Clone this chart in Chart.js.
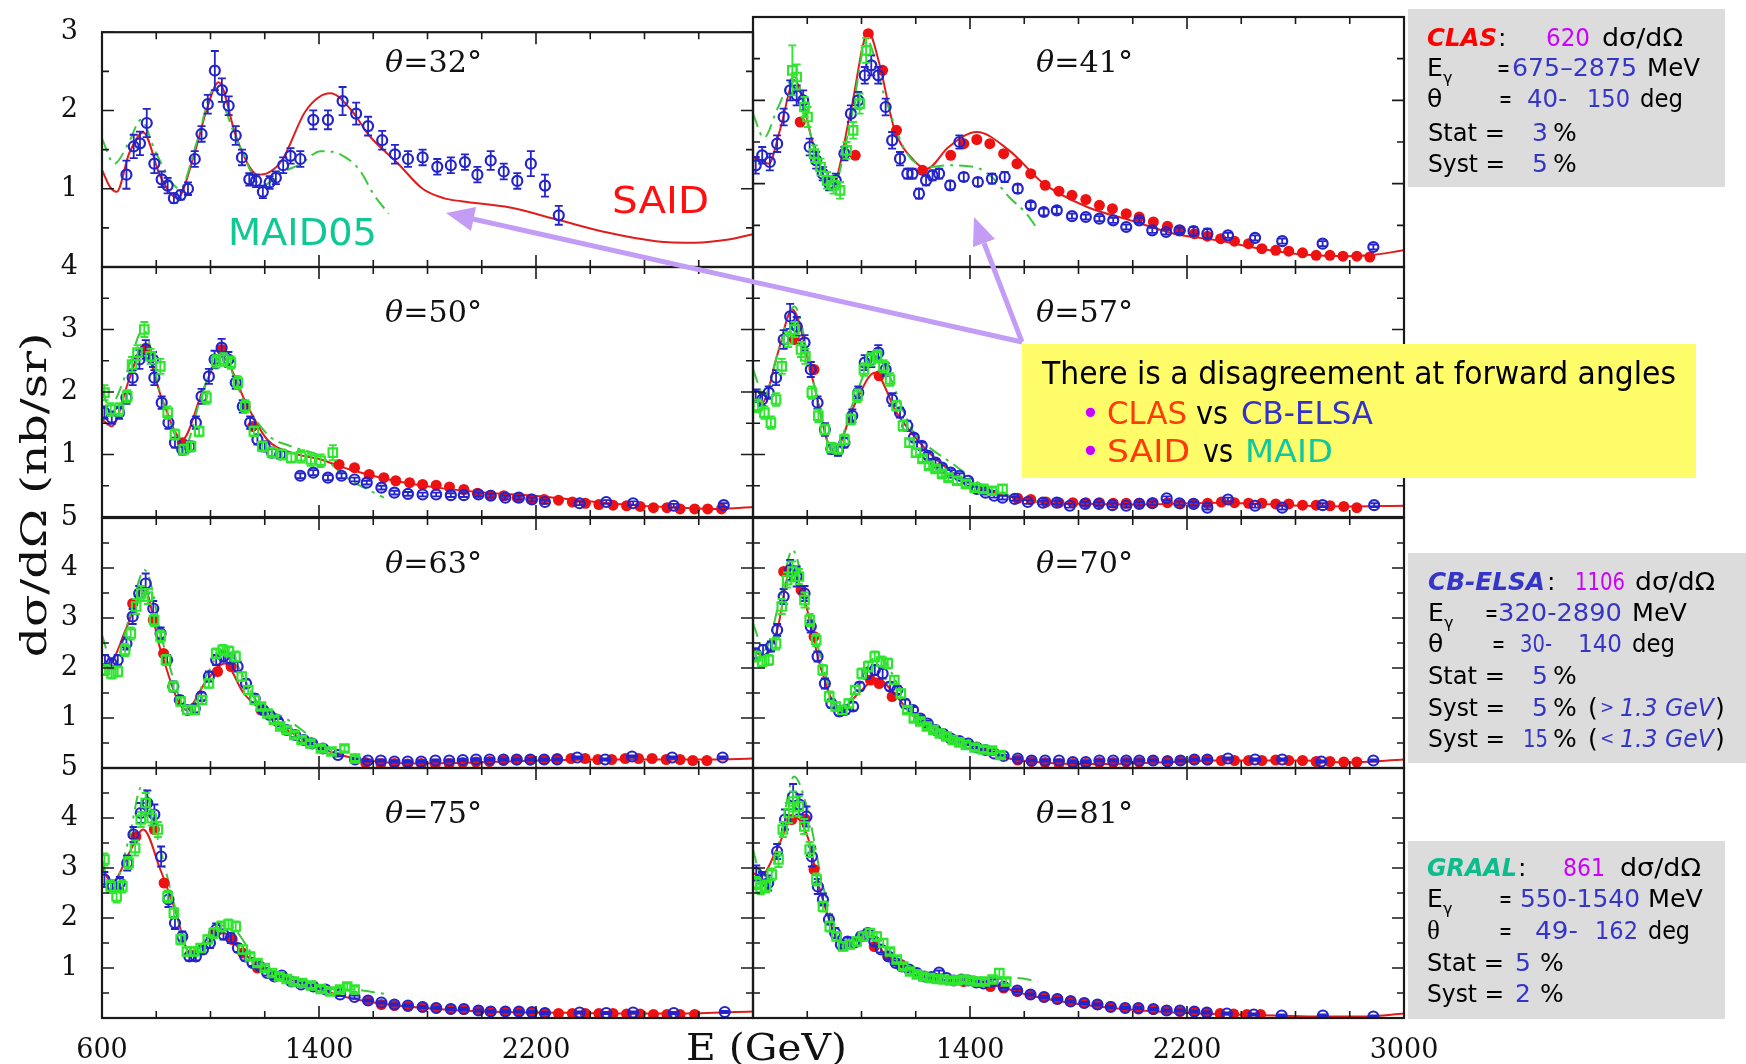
<!DOCTYPE html>
<html lang="en">
<head>
<meta charset="UTF-8">
<title>Eta photoproduction cross sections</title>
<script src="https://cdn.jsdelivr.net/npm/chart.js"></script>
<style>
  body { margin: 0; background: #fff; }
  #page { position: relative; width: 1746px; height: 1064px; overflow: hidden; }
  #page canvas { position: absolute; left: 0; top: 0; }
  #overlay { position: absolute; left: 0; top: 0; width: 1746px; height: 1064px; z-index: 5; }
  .box { position: absolute; }
</style>
</head>
<body>
<div id="page">
  <div id="overlay">
    <div class="box" style="left:1408px;top:9px;width:317px;height:178px;background:#dcdcdc"></div>
    <div class="box" style="left:1408px;top:553px;width:338px;height:210px;background:#dcdcdc"></div>
    <div class="box" style="left:1408px;top:841px;width:317px;height:178px;background:#dcdcdc"></div>
    <svg width="1746" height="1064" style="position:absolute;left:0;top:0">
      <g stroke="#c39cf5" stroke-width="5" fill="#c39cf5">
        <line x1="1022" y1="342" x2="473" y2="219"/>
        <polygon points="446,213 476,207 471,231" stroke="none"/>
        <line x1="1022" y1="342" x2="984" y2="243"/>
        <polygon points="974,217 995,239 973,247" stroke="none"/>
      </g>
    </svg>
    <div class="box" style="left:1022px;top:344px;width:674px;height:134px;background:#fefc68"></div>
  </div>
</div>
<script>
// energy axis (MeV) and panel value ranges
const xMin = 600, xMax = 3000;
const xLabelsLeft = [600, 1400, 2200];
const xLabelsRight = [1400, 2200, 3000];
const thetas = [32, 41, 50, 57, 63, 70, 75, 81];
const yMaxByRow = [3, 4, 5, 5];

// ---- theta = 32
const said32 = [[600,1.24],[630,1.02],[654,0.96],[700,1.45],[752,1.72],[815,1.16],[878,0.88],[940,1.44],[985,2.0],[1030,2.36],[1093,1.68],[1137,1.32],[1173,1.18],[1210,1.2],[1263,1.36],[1352,2.0],[1442,2.22],[1520,2.0],[1585,1.68],[1692,1.32],[1782,1.0],[1860,0.88],[1925,0.84],[2104,0.76],[2284,0.6],[2463,0.44],[2642,0.33],[2785,0.31],[2910,0.35],[3000,0.42]];
const maid32 = [[600,1.64],[645,1.32],[700,1.6],[743,1.88],[800,1.45],[887,1.0],[950,1.6],[1012,2.26],[1100,1.6],[1191,1.04],[1260,1.2],[1334,1.32],[1406,1.48],[1478,1.44],[1549,1.24],[1603,0.92],[1657,0.68]];
const elsa32 = [[690,1.18,0.18],[717,1.54,0.15],[740,1.58,0.15],[765,1.84,0.18],[793,1.32,0.12],[820,1.12,0.1],[842,1.04,0.1],[865,0.88,0.06],[890,0.92,0.06],[917,1.0,0.08],[942,1.38,0.1],[967,1.70,0.1],[990,2.08,0.12],[1016,2.51,0.25],[1042,2.26,0.15],[1067,2.06,0.12],[1093,1.68,0.12],[1116,1.40,0.1],[1143,1.12,0.08],[1168,1.10,0.08],[1193,0.96,0.08],[1218,1.08,0.08],[1241,1.14,0.08],[1268,1.30,0.1],[1295,1.42,0.1],[1331,1.38,0.1],[1379,1.88,0.12],[1433,1.88,0.12],[1487,2.12,0.18],[1537,1.96,0.14],[1581,1.80,0.12],[1633,1.62,0.12],[1680,1.44,0.12],[1728,1.38,0.1],[1782,1.40,0.1],[1836,1.28,0.1],[1886,1.30,0.1],[1938,1.34,0.1],[1984,1.18,0.1],[2033,1.36,0.12],[2081,1.22,0.1],[2131,1.10,0.1],[2181,1.32,0.16],[2233,1.04,0.14],[2284,0.66,0.12]];
const clas32 = [];
const graal32 = [];

// ---- theta = 41
const said41 = [[600,1.32],[658,1.24],[700,1.65],[753,2.24],[825,1.44],[889,0.94],[961,1.88],[1025,2.82],[1065,2.45],[1121,1.66],[1193,1.28],[1241,1.18],[1321,1.44],[1425,1.62],[1544,1.40],[1672,1.0],[1832,0.72],[1992,0.56],[2152,0.40],[2311,0.32],[2471,0.22],[2631,0.15],[2791,0.13],[2871,0.14],[3000,0.2]];
const maid41 = [[600,1.84],[640,1.55],[690,1.9],[753,2.28],[820,1.5],[889,0.92],[960,1.75],[1020,2.72],[1080,2.1],[1161,1.40],[1241,1.2],[1321,1.22],[1417,1.2],[1480,1.08],[1544,0.84],[1608,0.64],[1648,0.46]];
const elsa41 = [[610,1.22,0.1],[634,1.34,0.1],[662,1.26,0.1],[689,1.48,0.1],[713,1.80,0.1],[737,2.12,0.12],[761,2.06,0.12],[785,2.00,0.12],[809,1.44,0.1],[833,1.28,0.1],[857,1.12,0.08],[881,1.0,0.08],[905,1.04,0.08],[937,1.36,0.08],[961,1.84,0.1],[988,2.0,0.1],[1012,2.3,0.1],[1036,2.42,0.12],[1062,2.30,0.1],[1089,1.92,0.1],[1113,1.52,0.1],[1142,1.30,0.08],[1169,1.12,0.06],[1188,1.12,0.06],[1212,0.88,0.06],[1238,1.04,0.06],[1262,1.10,0.06],[1286,1.12,0.06],[1327,0.98,0.05],[1361,1.50,0.08],[1377,1.08,0.05],[1429,1.02,0.05],[1481,1.06,0.06],[1528,1.08,0.06],[1576,0.94,0.05],[1624,0.74,0.04],[1672,0.66,0.04],[1720,0.68,0.04],[1776,0.61,0.03],[1827,0.60,0.03],[1877,0.58,0.03],[1928,0.56,0.03],[1976,0.48,0.03],[2024,0.56,0.03],[2072,0.44,0.03],[2123,0.42,0.03],[2172,0.44,0.03],[2224,0.43,0.05],[2275,0.40,0.06],[2351,0.38,0.03],[2451,0.35,0.03],[2551,0.31,0.03],[2700,0.28,0.03],[2887,0.24,0.03]];
const clas41 = [[774,1.74],[977,1.34],[1025,2.8],[1078,2.36],[1129,1.64],[1225,1.16],[1329,1.34],[1377,1.48],[1425,1.53],[1473,1.48],[1524,1.36],[1573,1.24],[1624,1.12],[1677,0.98],[1728,0.91],[1776,0.86],[1827,0.81],[1877,0.74],[1925,0.70],[1976,0.64],[2024,0.60],[2076,0.54],[2128,0.49],[2176,0.44],[2227,0.40],[2275,0.37],[2324,0.34],[2375,0.31],[2427,0.28],[2476,0.22],[2527,0.20],[2575,0.19],[2626,0.17],[2676,0.14],[2727,0.14],[2775,0.13],[2826,0.13],[2874,0.12]];
const graal41 = [[745,2.36,0.3],[761,2.28,0.15],[790,1.92,0.12],[801,1.80,0.12],[825,1.36,0.1],[849,1.2,0.1],[873,1.04,0.1],[897,0.98,0.1],[921,0.92,0.1],[945,1.40,0.1],[969,1.64,0.1],[993,1.96,0.12],[1017,2.60,0.15]];

// ---- theta = 50
const said50 = [[600,1.56],[636,1.45],[700,2.2],[752,2.73],[820,1.9],[896,1.24],[970,2.0],[1039,2.57],[1137,1.77],[1209,1.24],[1298,1.03],[1406,0.92],[1513,0.76],[1657,0.60],[1836,0.47],[2015,0.39],[2194,0.34],[2373,0.26],[2552,0.19],[2731,0.15],[2875,0.13],[3000,0.16]];
const maid50 = [[600,2.04],[627,1.77],[690,2.3],[752,3.0],[820,1.9],[904,1.13],[970,2.0],[1039,2.57],[1130,1.8],[1218,1.29],[1298,1.13],[1406,0.97],[1513,0.60],[1639,0.31]];
const elsa50 = [[609,1.67,0.1],[636,1.59,0.1],[663,1.67,0.1],[690,1.91,0.1],[713,2.23,0.12],[738,2.52,0.15],[761,2.68,0.15],[788,2.52,0.12],[793,2.23,0.12],[820,1.83,0.1],[845,1.51,0.1],[869,1.19,0.08],[896,1.08,0.08],[922,1.13,0.08],[946,1.51,0.1],[967,1.93,0.12],[994,2.25,0.12],[1015,2.52,0.14],[1041,2.71,0.14],[1066,2.52,0.12],[1093,2.15,0.1],[1119,1.77,0.1],[1146,1.51,0.1],[1173,1.24,0.08],[1200,1.13,0.08],[1227,1.03,0.06],[1257,1.0,0.06],[1331,0.66,0.04],[1379,0.71,0.04],[1433,0.63,0.04],[1483,0.66,0.04],[1531,0.60,0.03],[1576,0.55,0.03],[1630,0.47,0.03],[1678,0.39,0.03],[1728,0.37,0.03],[1782,0.36,0.03],[1832,0.36,0.03],[1886,0.35,0.03],[1934,0.35,0.03],[1988,0.36,0.03],[2033,0.34,0.03],[2087,0.31,0.03],[2137,0.31,0.03],[2185,0.28,0.03],[2233,0.24,0.03],[2361,0.22,0.03],[2459,0.24,0.03],[2558,0.22,0.03],[2708,0.18,0.03],[2892,0.19,0.03]];
const clas50 = [[761,2.7],[896,1.19],[1041,2.68],[1128,1.77],[1155,1.45],[1474,0.84],[1531,0.79],[1585,0.68],[1639,0.63],[1683,0.58],[1734,0.55],[1782,0.52],[1832,0.51],[1881,0.48],[1934,0.44],[1984,0.38],[2033,0.35],[2081,0.34],[2131,0.31],[2181,0.29],[2230,0.28],[2283,0.27],[2334,0.24],[2382,0.22],[2432,0.20],[2484,0.19],[2534,0.18],[2584,0.17],[2633,0.15],[2683,0.15],[2731,0.13],[2785,0.13],[2833,0.13],[2884,0.13]];
const graal50 = [[609,1.99,0.12],[632,1.72,0.1],[663,1.72,0.1],[693,1.93,0.1],[711,2.44,0.12],[731,2.63,0.12],[756,3.0,0.12],[779,2.57,0.12],[815,2.41,0.12],[842,1.67,0.1],[869,1.32,0.08],[901,1.08,0.08],[928,1.13,0.08],[958,1.37,0.08],[985,1.91,0.1],[1021,2.49,0.1],[1048,2.52,0.1],[1075,2.47,0.1],[1101,2.15,0.1],[1128,1.77,0.1],[1160,1.37,0.08],[1191,1.13,0.08],[1227,1.03,0.08],[1263,1.0,0.08],[1298,0.95,0.08],[1334,0.97,0.1],[1370,0.92,0.1],[1406,0.90,0.1],[1451,1.03,0.12]];

// ---- theta = 57
const said57 = [[600,1.88],[634,1.83],[690,2.6],[745,3.32],[820,2.2],[897,1.03],[975,1.8],[1049,2.31],[1129,1.67],[1193,1.30],[1273,0.93],[1353,0.66],[1449,0.45],[1560,0.31],[1672,0.23],[1832,0.21],[1992,0.20],[2152,0.21],[2311,0.23],[2471,0.21],[2631,0.18],[2791,0.17],[3000,0.18]];
const maid57 = [[600,2.36],[642,1.94],[690,2.6],[753,3.37],[820,2.2],[897,1.03],[975,1.9],[1049,2.57],[1193,1.35],[1257,1.09],[1337,0.85],[1449,0.5],[1592,0.29],[1650,0.25]];
const elsa57 = [[610,1.94,0.1],[634,1.88,0.1],[658,1.99,0.1],[685,2.23,0.12],[713,2.84,0.15],[737,3.21,0.2],[761,3.05,0.15],[790,2.79,0.12],[813,2.36,0.12],[838,1.83,0.1],[865,1.40,0.1],[889,1.09,0.08],[913,1.06,0.08],[937,1.19,0.08],[966,1.62,0.1],[988,1.99,0.1],[1012,2.47,0.12],[1036,2.52,0.12],[1062,2.63,0.12],[1089,2.36,0.1],[1113,1.88,0.1],[1142,1.67,0.08],[1169,1.46,0.08],[1193,1.27,0.06],[1222,1.14,0.06],[1246,0.98,0.05],[1273,0.87,0.05],[1297,0.79,0.04],[1329,0.71,0.04],[1361,0.66,0.04],[1393,0.58,0.03],[1425,0.45,0.03],[1457,0.39,0.03],[1489,0.34,0.03],[1520,0.31,0.03],[1565,0.29,0.03],[1613,0.24,0.03],[1669,0.23,0.03],[1720,0.23,0.03],[1768,0.18,0.03],[1824,0.21,0.03],[1875,0.21,0.03],[1925,0.19,0.03],[1976,0.18,0.03],[2024,0.21,0.03],[2072,0.22,0.03],[2125,0.30,0.03],[2172,0.22,0.03],[2224,0.21,0.03],[2275,0.15,0.03],[2351,0.28,0.03],[2451,0.18,0.03],[2551,0.15,0.03],[2700,0.19,0.03],[2890,0.19,0.03]];
const clas57 = [[753,2.84],[825,2.36],[1065,2.26],[1576,0.30],[1624,0.28],[1680,0.24],[1728,0.23],[1779,0.23],[1827,0.23],[1877,0.23],[1928,0.22],[1976,0.22],[2024,0.22],[2075,0.23],[2128,0.23],[2176,0.21],[2227,0.21],[2276,0.22],[2327,0.24],[2375,0.23],[2427,0.22],[2476,0.22],[2527,0.21],[2575,0.21],[2626,0.19],[2676,0.19],[2727,0.18],[2778,0.17],[2826,0.15]];
const graal57 = [[618,1.78,0.1],[642,1.67,0.1],[666,1.51,0.1],[685,1.88,0.1],[706,2.41,0.12],[729,2.84,0.12],[753,3.0,0.12],[777,2.68,0.12],[793,2.57,0.12],[817,1.99,0.1],[841,1.62,0.1],[865,1.40,0.08],[889,1.11,0.08],[913,1.09,0.08],[937,1.24,0.08],[961,1.56,0.08],[985,1.94,0.1],[1009,2.36,0.1],[1033,2.52,0.1],[1057,2.57,0.1],[1081,2.41,0.1],[1105,2.20,0.1],[1129,1.78,0.08],[1153,1.46,0.08],[1177,1.19,0.06],[1201,1.03,0.06],[1225,0.93,0.05],[1249,0.82,0.05],[1273,0.77,0.05],[1297,0.69,0.05],[1321,0.63,0.05],[1353,0.58,0.05],[1385,0.53,0.05],[1417,0.47,0.05],[1449,0.45,0.05],[1481,0.42,0.05],[1520,0.45,0.06]];

// ---- theta = 63
const said63 = [[600,2.09],[619,2.03],[690,2.8],[753,3.63],[816,2.36],[910,1.16],[980,1.7],[1052,2.09],[1123,1.49],[1186,1.16],[1265,0.83],[1344,0.56],[1423,0.36],[1501,0.23],[1580,0.15],[1738,0.09],[1974,0.11],[2211,0.15],[2447,0.17],[2683,0.17],[2841,0.17],[3000,0.19]];
const maid63 = [[600,2.66],[642,2.03],[700,3.0],[757,3.96],[830,2.4],[918,1.16],[990,1.9],[1045,2.36],[1186,1.23],[1265,1.03],[1344,0.73],[1407,0.43],[1470,0.23]];
const elsa63 = [[611,2.16,0.1],[635,2.09,0.1],[658,2.16,0.1],[690,2.49,0.12],[713,3.03,0.15],[737,3.49,0.15],[761,3.69,0.2],[789,3.19,0.15],[816,2.69,0.12],[840,2.16,0.1],[863,1.63,0.1],[887,1.36,0.08],[915,1.16,0.08],[942,1.19,0.08],[966,1.43,0.08],[994,1.83,0.1],[1021,2.16,0.1],[1048,2.23,0.1],[1073,2.19,0.1],[1100,2.03,0.1],[1131,1.69,0.08],[1163,1.39,0.08],[1194,1.16,0.06],[1218,1.06,0.06],[1249,0.93,0.05],[1281,0.76,0.04],[1312,0.66,0.04],[1344,0.56,0.04],[1375,0.49,0.03],[1415,0.39,0.03],[1470,0.26,0.03],[1533,0.17,0.02],[1580,0.15,0.02],[1628,0.15,0.02],[1678,0.13,0.02],[1727,0.13,0.02],[1777,0.13,0.02],[1829,0.15,0.02],[1880,0.15,0.02],[1930,0.16,0.02],[1979,0.17,0.02],[2029,0.17,0.02],[2080,0.17,0.02],[2129,0.17,0.02],[2179,0.17,0.02],[2230,0.17,0.02],[2278,0.17,0.02],[2352,0.21,0.02],[2455,0.17,0.02],[2554,0.23,0.02],[2702,0.21,0.02],[2888,0.21,0.02]];
const clas63 = [[713,3.29],[789,2.96],[827,2.29],[1026,1.93],[1076,2.03],[1186,1.16],[1572,0.11],[1628,0.09],[1678,0.09],[1727,0.08],[1777,0.09],[1829,0.08],[1880,0.09],[1930,0.11],[1979,0.12],[2029,0.13],[2080,0.15],[2129,0.16],[2179,0.16],[2230,0.17],[2278,0.19],[2329,0.19],[2381,0.19],[2428,0.17],[2479,0.17],[2529,0.19],[2578,0.19],[2628,0.19],[2680,0.17],[2731,0.17],[2778,0.15],[2830,0.15]];
const graal63 = [[611,1.96,0.1],[635,1.89,0.1],[658,1.93,0.1],[685,2.36,0.12],[706,2.69,0.12],[726,3.23,0.15],[745,3.49,0.15],[769,3.43,0.15],[792,2.96,0.12],[816,2.63,0.12],[836,2.16,0.1],[863,1.63,0.1],[890,1.33,0.08],[915,1.16,0.08],[942,1.16,0.08],[969,1.36,0.08],[994,1.69,0.08],[1021,2.29,0.1],[1045,2.36,0.1],[1068,2.33,0.1],[1092,2.23,0.1],[1115,1.83,0.08],[1139,1.56,0.08],[1163,1.36,0.08],[1186,1.23,0.06],[1210,1.09,0.06],[1234,0.96,0.06],[1257,0.83,0.05],[1281,0.76,0.05],[1309,0.66,0.05],[1336,0.56,0.05],[1368,0.49,0.05],[1407,0.39,0.05],[1446,0.33,0.05],[1494,0.39,0.06],[1533,0.19,0.05]];

// ---- theta = 70
const said70 = [[600,2.36],[642,2.23],[689,2.76],[740,3.98],[793,3.3],[850,2.0],[921,1.16],[990,1.5],[1057,1.79],[1129,1.43],[1193,1.03],[1273,0.76],[1353,0.56],[1449,0.36],[1544,0.19],[1672,0.11],[1832,0.08],[1992,0.09],[2152,0.12],[2311,0.15],[2471,0.15],[2631,0.15],[2791,0.11],[3000,0.17]];
const maid70 = [[600,2.89],[642,2.36],[700,3.4],[745,4.36],[800,3.3],[860,2.0],[921,1.09],[990,1.7],[1057,2.23],[1193,1.09],[1353,0.63],[1512,0.33],[1550,0.28]];
const elsa70 = [[610,2.29,0.1],[637,2.36,0.1],[666,2.43,0.1],[689,2.76,0.12],[713,3.43,0.15],[737,3.96,0.2],[761,3.83,0.2],[790,3.49,0.15],[813,2.83,0.12],[838,2.23,0.1],[865,1.69,0.1],[889,1.29,0.08],[918,1.13,0.08],[940,1.16,0.08],[969,1.23,0.08],[993,1.63,0.08],[1020,1.89,0.1],[1049,1.96,0.1],[1078,1.89,0.1],[1105,1.63,0.08],[1132,1.56,0.08],[1161,1.29,0.08],[1190,1.16,0.06],[1217,0.99,0.06],[1244,0.89,0.05],[1273,0.76,0.05],[1302,0.68,0.04],[1329,0.59,0.04],[1361,0.54,0.03],[1393,0.49,0.03],[1425,0.41,0.03],[1457,0.36,0.03],[1489,0.29,0.03],[1524,0.24,0.02],[1576,0.19,0.02],[1627,0.15,0.02],[1677,0.15,0.02],[1728,0.15,0.02],[1779,0.12,0.02],[1827,0.12,0.02],[1877,0.15,0.02],[1928,0.15,0.02],[1976,0.15,0.02],[2024,0.15,0.02],[2075,0.15,0.02],[2128,0.13,0.02],[2176,0.15,0.02],[2227,0.17,0.02],[2275,0.17,0.02],[2351,0.19,0.02],[2451,0.17,0.02],[2551,0.17,0.02],[2695,0.13,0.02],[2887,0.15,0.02]];
const clas70 = [[713,3.93],[777,3.56],[825,2.63],[1033,1.76],[1065,1.69],[1113,1.43],[1576,0.16],[1627,0.13],[1677,0.11],[1728,0.09],[1779,0.09],[1827,0.09],[1877,0.11],[1928,0.11],[1976,0.12],[2024,0.12],[2075,0.15],[2128,0.15],[2176,0.15],[2227,0.16],[2276,0.16],[2327,0.15],[2375,0.15],[2427,0.15],[2476,0.15],[2527,0.16],[2575,0.15],[2626,0.15],[2676,0.13],[2727,0.13],[2778,0.12],[2826,0.12]];
const graal70 = [[610,2.23,0.1],[634,2.13,0.1],[658,2.16,0.1],[685,2.49,0.12],[706,3.23,0.15],[726,3.76,0.15],[745,3.93,0.2],[769,3.83,0.15],[790,3.36,0.15],[809,2.96,0.12],[833,2.56,0.12],[857,1.96,0.1],[881,1.43,0.1],[905,1.23,0.08],[929,1.16,0.08],[953,1.29,0.08],[977,1.56,0.08],[1001,1.89,0.1],[1025,2.03,0.1],[1049,2.23,0.1],[1073,2.13,0.1],[1097,2.09,0.1],[1121,1.76,0.08],[1145,1.49,0.08],[1169,1.16,0.06],[1193,0.99,0.06],[1217,0.93,0.05],[1241,0.83,0.05],[1265,0.76,0.05],[1289,0.69,0.05],[1313,0.63,0.05],[1337,0.56,0.05],[1361,0.51,0.05],[1385,0.46,0.05],[1417,0.41,0.05],[1449,0.37,0.05],[1481,0.35,0.05],[1512,0.26,0.05]];

// ---- theta = 75
const said75 = [[600,3.03],[636,2.70],[700,3.3],[752,3.77],[815,2.97],[869,2.17],[922,1.33],[990,1.5],[1048,1.70],[1119,1.30],[1191,1.03],[1298,0.77],[1406,0.57],[1513,0.40],[1657,0.27],[1836,0.18],[2015,0.13],[2194,0.11],[2373,0.10],[2552,0.09],[2731,0.09],[3000,0.13]];
const maid75 = [[600,3.17],[636,2.57],[700,3.6],[746,4.63],[815,3.37],[870,2.2],[922,1.30],[990,1.6],[1057,1.87],[1191,1.03],[1388,0.63],[1530,0.57],[1657,0.47]];
const elsa75 = [[609,2.77,0.15],[639,2.63,0.12],[666,2.70,0.12],[693,3.10,0.15],[716,3.67,0.15],[743,4.10,0.2],[767,4.30,0.25],[793,4.07,0.2],[818,3.23,0.2],[845,2.37,0.15],[869,1.90,0.12],[896,1.63,0.1],[922,1.23,0.08],[946,1.23,0.08],[972,1.37,0.08],[998,1.50,0.1],[1021,1.77,0.12],[1048,1.67,0.1],[1075,1.60,0.1],[1101,1.40,0.08],[1128,1.23,0.08],[1155,1.10,0.06],[1182,1.03,0.06],[1209,0.90,0.05],[1236,0.83,0.05],[1263,0.85,0.05],[1298,0.73,0.04],[1334,0.67,0.04],[1379,0.63,0.04],[1424,0.57,0.03],[1478,0.47,0.03],[1531,0.42,0.03],[1581,0.35,0.02],[1630,0.31,0.02],[1678,0.27,0.02],[1728,0.25,0.02],[1782,0.22,0.02],[1832,0.20,0.02],[1886,0.18,0.02],[1934,0.18,0.02],[1988,0.15,0.02],[2033,0.13,0.02],[2087,0.13,0.02],[2137,0.13,0.02],[2185,0.12,0.02],[2233,0.10,0.02],[2361,0.11,0.02],[2459,0.10,0.02],[2558,0.11,0.02],[2708,0.10,0.02],[2896,0.12,0.02]];
const clas75 = [[725,3.63],[793,3.77],[829,2.70],[1012,1.70],[1080,1.57],[1119,1.30],[1173,1.00],[1581,0.35],[1630,0.27],[1678,0.25],[1728,0.23],[1782,0.22],[1832,0.20],[1886,0.18],[1934,0.17],[1988,0.15],[2033,0.13],[2087,0.13],[2137,0.12],[2185,0.11],[2233,0.10],[2283,0.09],[2334,0.09],[2382,0.09],[2432,0.09],[2484,0.09],[2534,0.08],[2584,0.08],[2633,0.07],[2683,0.07],[2731,0.07],[2785,0.07]];
const graal75 = [[609,3.17,0.12],[632,2.63,0.12],[654,2.43,0.12],[675,2.63,0.12],[698,3.10,0.12],[722,3.40,0.15],[743,3.97,0.15],[761,4.30,0.2],[783,4.00,0.15],[806,3.77,0.15],[842,2.43,0.12],[865,2.10,0.1],[890,1.57,0.1],[913,1.33,0.08],[940,1.33,0.08],[964,1.40,0.08],[990,1.57,0.08],[1012,1.70,0.1],[1039,1.83,0.1],[1066,1.87,0.1],[1093,1.83,0.1],[1119,1.37,0.08],[1146,1.23,0.06],[1173,1.10,0.06],[1200,1.00,0.05],[1227,0.90,0.05],[1254,0.83,0.05],[1281,0.78,0.05],[1307,0.73,0.05],[1338,0.70,0.05],[1370,0.65,0.05],[1406,0.58,0.05],[1442,0.53,0.05],[1478,0.57,0.05],[1504,0.63,0.06],[1531,0.57,0.06]];

// ---- theta = 81
const said81 = [[600,2.90],[628,2.83],[690,3.4],[751,4.03],[801,3.63],[850,2.50],[932,1.47],[1023,1.63],[1113,1.10],[1212,0.83],[1311,0.73],[1426,0.71],[1508,0.63],[1607,0.47],[1738,0.33],[1870,0.23],[2034,0.15],[2199,0.10],[2363,0.07],[2528,0.05],[2692,0.03],[2857,0.03],[3000,0.09]];
const maid81 = [[600,3.37],[620,2.97],[653,2.70],[700,3.6],[751,4.83],[801,4.17],[860,2.6],[932,1.50],[1031,1.77],[1130,1.10],[1294,0.83],[1459,0.77],[1574,0.80],[1649,0.73]];
const elsa81 = [[612,2.90,0.15],[633,2.80,0.12],[656,2.70,0.15],[689,3.33,0.15],[718,3.97,0.2],[748,4.43,0.25],[771,4.27,0.2],[797,4.03,0.2],[817,3.23,0.2],[839,2.63,0.15],[858,2.37,0.12],[880,1.97,0.1],[903,1.70,0.1],[924,1.47,0.08],[949,1.53,0.08],[973,1.51,0.08],[998,1.63,0.08],[1023,1.70,0.08],[1047,1.53,0.08],[1072,1.37,0.06],[1100,1.23,0.06],[1126,1.10,0.05],[1149,1.03,0.05],[1176,0.97,0.05],[1204,0.90,0.05],[1232,0.83,0.04],[1258,0.82,0.04],[1286,0.91,0.04],[1314,0.80,0.04],[1340,0.75,0.04],[1368,0.77,0.04],[1393,0.75,0.04],[1423,0.71,0.04],[1450,0.69,0.04],[1483,0.73,0.04],[1524,0.63,0.03],[1574,0.55,0.03],[1623,0.47,0.02],[1673,0.42,0.02],[1722,0.38,0.02],[1771,0.33,0.02],[1821,0.30,0.02],[1870,0.27,0.02],[1919,0.22,0.02],[1972,0.20,0.02],[2021,0.20,0.02],[2076,0.18,0.02],[2125,0.15,0.02],[2174,0.15,0.02],[2227,0.13,0.02],[2273,0.11,0.02],[2347,0.09,0.02],[2446,0.07,0.02],[2549,0.05,0.02],[2701,0.05,0.02],[2887,0.03,0.02]];
const clas81 = [[743,3.97],[792,3.98],[825,2.97],[1047,1.43],[1097,1.23],[1146,1.07],[1269,0.80],[1376,0.73],[1475,0.63],[1524,0.60],[1574,0.53],[1623,0.47],[1673,0.42],[1722,0.38],[1771,0.35],[1821,0.30],[1870,0.27],[1919,0.23],[1972,0.20],[2021,0.18],[2076,0.17],[2125,0.15],[2174,0.13],[2227,0.12],[2273,0.10],[2322,0.09],[2372,0.08],[2421,0.07],[2471,0.07]];
const graal81 = [[612,2.70,0.12],[628,2.60,0.12],[648,2.63,0.12],[669,2.87,0.12],[694,3.17,0.15],[710,3.77,0.15],[732,4.10,0.2],[748,4.33,0.2],[768,4.23,0.2],[789,3.83,0.15],[809,3.37,0.15],[834,2.77,0.12],[858,2.23,0.1],[883,1.83,0.1],[908,1.63,0.08],[932,1.43,0.08],[957,1.47,0.08],[982,1.53,0.08],[1006,1.63,0.08],[1031,1.70,0.08],[1056,1.63,0.08],[1080,1.50,0.08],[1105,1.33,0.06],[1130,1.17,0.06],[1154,1.03,0.05],[1179,0.93,0.05],[1204,0.87,0.05],[1228,0.83,0.05],[1253,0.80,0.05],[1278,0.78,0.05],[1302,0.77,0.05],[1327,0.75,0.05],[1352,0.75,0.05],[1376,0.77,0.05],[1401,0.75,0.05],[1426,0.73,0.05],[1455,0.73,0.05],[1483,0.77,0.06],[1508,0.90,0.08],[1533,0.73,0.06]];

const saidSets = [said32, said41, said50, said57, said63, said70, said75, said81];
const maidSets = [maid32, maid41, maid50, maid57, maid63, maid70, maid75, maid81];
const elsaSets = [elsa32, elsa41, elsa50, elsa57, elsa63, elsa70, elsa75, elsa81];
const clasSets = [clas32, clas41, clas50, clas57, clas63, clas70, clas75, clas81];
const graalSets = [graal32, graal41, graal50, graal57, graal63, graal70, graal75, graal81];

// page geometry
const W = 1746, H = 1064;
const colLeft = [102, 753], panelW = 651;
const rowTop = [17, 267, 518, 768], panelH = 250;
const TICK_FONT = { family: 'DejaVu Serif', size: 27 };

const RED = '#ee1111', BLUE = '#2424cc', GREEN = '#2fe62f', MAIDGREEN = '#3cc83c';

const toXY = arr => arr.map(p => ({ x: p[0], y: p[1], e: p[2] }));

// error bars under the symbols
const errorBars = {
  id: 'errorBars',
  beforeDatasetDraw(chart, args) {
    const ds = chart.data.datasets[args.index];
    if (!ds.errColor) return;
    const { ctx, chartArea: a, scales: { x, y } } = chart;
    ctx.save();
    ctx.beginPath();
    ctx.rect(a.left, a.top, a.width, a.height);
    ctx.clip();
    ctx.strokeStyle = ds.errColor;
    ctx.lineWidth = 1.8;
    ds.data.forEach(d => {
      if (!d.e) return;
      const px = x.getPixelForValue(d.x);
      const lo = y.getPixelForValue(d.y - d.e), hi = y.getPixelForValue(d.y + d.e);
      ctx.beginPath();
      ctx.moveTo(px, lo); ctx.lineTo(px, hi);
      ctx.moveTo(px - 4, lo); ctx.lineTo(px + 4, lo);
      ctx.moveTo(px - 4, hi); ctx.lineTo(px + 4, hi);
      ctx.stroke();
    });
    ctx.restore();
  }
};

// frame + inward ticks on all four sides
const frame = {
  id: 'frame',
  afterDatasetsDraw(chart) {
    const { ctx, chartArea: a, scales: { x, y } } = chart;
    ctx.save();
    ctx.strokeStyle = '#1a1a1a';
    ctx.lineWidth = 1.6;
    x.ticks.forEach(t => {
      const px = x.getPixelForValue(t.value);
      const len = (t.value - 600) % 800 === 0 ? 12 : 7;
      ctx.beginPath();
      ctx.moveTo(px, a.bottom); ctx.lineTo(px, a.bottom - len);
      ctx.moveTo(px, a.top); ctx.lineTo(px, a.top + len);
      ctx.stroke();
    });
    y.ticks.forEach(t => {
      const py = y.getPixelForValue(t.value);
      const len = Number.isInteger(t.value) ? 12 : 7;
      ctx.beginPath();
      ctx.moveTo(a.left, py); ctx.lineTo(a.left + len, py);
      ctx.moveTo(a.right, py); ctx.lineTo(a.right - len, py);
      ctx.stroke();
    });
    ctx.lineWidth = 2.2;
    ctx.strokeRect(a.left, a.top, a.width, a.height);
    ctx.restore();
  }
};

const page = document.getElementById('page');

thetas.forEach((theta, i) => {
  const row = Math.floor(i / 2), col = i % 2;
  const left = colLeft[col], top = rowTop[row];
  const canvas = document.createElement('canvas');
  canvas.width = W; canvas.height = H;
  page.insertBefore(canvas, document.getElementById('overlay'));
  const xLabels = col === 0 ? xLabelsLeft : xLabelsRight;

  new Chart(canvas, {
    type: 'scatter',
    data: {
      datasets: [
        { label: 'GRAAL', data: toXY(graalSets[i]), pointStyle: 'rect', pointRadius: 6,
          borderColor: GREEN, backgroundColor: 'rgba(0,0,0,0)', borderWidth: 2.2, errColor: GREEN, order: 1 },
        { label: 'CB-ELSA', data: toXY(elsaSets[i]), pointStyle: 'circle', pointRadius: 5,
          borderColor: BLUE, backgroundColor: 'rgba(0,0,0,0)', borderWidth: 2.2, errColor: BLUE, order: 2 },
        { label: 'CLAS', data: toXY(clasSets[i]), pointStyle: 'circle', pointRadius: 5.5,
          borderColor: RED, backgroundColor: RED, borderWidth: 0, order: 3 },
        { label: 'MAID05', data: toXY(maidSets[i]), showLine: true, pointRadius: 0,
          borderColor: MAIDGREEN, borderWidth: 2, borderDash: [14, 6, 3, 6],
          cubicInterpolationMode: 'monotone', order: 4 },
        { label: 'SAID', data: toXY(saidSets[i]), showLine: true, pointRadius: 0,
          borderColor: '#e01c1c', borderWidth: 2, cubicInterpolationMode: 'monotone', order: 5 }
      ]
    },
    options: {
      responsive: false,
      animation: false,
      events: [],
      layout: { autoPadding: false, padding: { top: top, left: 0, bottom: 0, right: W - (left + panelW) } },
      plugins: { legend: { display: false }, tooltip: { enabled: false } },
      scales: {
        x: {
          type: 'linear', min: xMin, max: xMax, position: 'bottom',
          grid: { display: false }, border: { display: false },
          ticks: {
            display: row === 3, stepSize: 200, autoSkip: false, maxRotation: 0,
            padding: 9, font: TICK_FONT, color: '#111',
            callback: v => (xLabels.includes(v) ? String(v) : '')
          },
          afterFit: s => { s.height = H - (top + panelH); }
        },
        y: {
          type: 'linear', min: 0, max: yMaxByRow[row], position: 'left',
          grid: { display: false }, border: { display: false },
          ticks: {
            display: col === 0, stepSize: 0.5, autoSkip: false,
            padding: 16, font: TICK_FONT, color: '#111',
            callback: v => (Number.isInteger(v) && v > 0 ? String(v) : '')
          },
          afterFit: s => { s.width = left; }
        }
      }
    },
    plugins: [errorBars, frame]
  });
});

// ---------- text overlays
const overlay = document.getElementById('overlay');
const NOTE = "'DejaVu Sans', sans-serif";
const SERIF = "'DejaVu Serif', serif";

function put(text, x, y, o = {}) {
  const s = document.createElement('span');
  if (o.html) s.innerHTML = text; else s.textContent = text;
  s.style.cssText = 'position:absolute;white-space:pre;line-height:1;transform-origin:0 50%;' +
    `left:${x}px;top:${y}px;font-family:${o.family || NOTE};font-size:${o.size || 25}px;` +
    `color:${o.color || '#000'};font-weight:${o.weight || 'normal'};font-style:${o.style || 'normal'};`;
  overlay.appendChild(s);
  const k = o.w ? o.w / s.getBoundingClientRect().width : 1;
  s.style.transform = `translateY(-50%) scaleX(${k})`;
  return s;
}

// panel angle labels
thetas.forEach((theta, i) => {
  const row = Math.floor(i / 2), col = i % 2;
  put(`<i>θ</i>=${theta}°`, colLeft[col] + 283, rowTop[row] + 45,
      { html: true, family: SERIF, size: 29, color: '#111', w: 97 });
});

// axis titles
put('E (GeV)', 686, 1047, { family: SERIF, size: 37, color: '#111', w: 161 });
(() => {
  const s = document.createElement('span');
  s.textContent = 'dσ/dΩ (nb/sr)';
  s.style.cssText = `position:absolute;white-space:pre;line-height:1;left:34px;top:495px;` +
    `font-family:${SERIF};font-size:35px;color:#111;`;
  overlay.appendChild(s);
  const k = 325 / s.getBoundingClientRect().width;
  s.style.transform = `translate(-50%,-50%) rotate(-90deg) scaleX(${k})`;
})();

// model labels
put('SAID', 612, 200, { size: 37, color: '#ff1010', w: 97 });
put('MAID05', 228, 232, { size: 37, color: '#10c896', w: 149 });

// yellow note
const ORANGE = '#ff3a0a', NBLUE = '#3333cc', TEAL = '#10c8a0', MAG = '#cc00ff';
put('There is a disagreement at forward angles', 1042, 373, { size: 32, w: 634 });
put('•', 1081, 413, { size: 32, color: MAG });
put('CLAS', 1107, 413, { size: 32, color: ORANGE, w: 80 });
put('vs', 1196, 413, { size: 32, w: 32 });
put('CB-ELSA', 1241, 413, { size: 32, color: NBLUE, w: 132 });
put('•', 1081, 451, { size: 32, color: MAG });
put('SAID', 1107, 451, { size: 32, color: ORANGE, w: 83 });
put('vs', 1203, 451, { size: 32, w: 30 });
put('MAID', 1245, 451, { size: 32, color: TEAL, w: 88 });

// info boxes
const BB = '#3535c8';
function eGamma(x, y) { put('E', x, y); put('γ', x + 16, y + 11, { size: 16 }); }

put('CLAS', 1427, 37, { color: '#ff0000', weight: 'bold', style: 'italic', w: 70 });
put(':', 1498, 37);
put('620', 1546, 37, { color: MAG, w: 44 });
put('dσ/dΩ', 1602, 37, { w: 81 });
eGamma(1427, 67);
put('=', 1497, 67, { w: 13 }); put('675–2875', 1512, 67, { color: BB, w: 125 }); put('MeV', 1647, 67, { w: 53 });
put('θ', 1427, 98);
put('=', 1499, 98, { w: 13 }); put('40-', 1527, 98, { color: BB, w: 40 }); put('150', 1587, 98, { color: BB, w: 43 }); put('deg', 1640, 98, { w: 43 });
put('Stat =', 1428, 132, { w: 77 }); put('3', 1532, 132, { color: BB }); put('%', 1553, 132);
put('Syst =', 1428, 163, { w: 77 }); put('5', 1532, 163, { color: BB }); put('%', 1553, 163);

put('CB-ELSA', 1428, 581, { color: BB, weight: 'bold', style: 'italic', w: 117 });
put(':', 1547, 581);
put('1106', 1575, 581, { color: MAG, w: 50 });
put('dσ/dΩ', 1635, 581, { w: 80 });
eGamma(1428, 612);
put('=', 1485, 612, { w: 13 }); put('320-2890', 1498, 612, { color: BB, w: 124 }); put('MeV', 1632, 612, { w: 55 });
put('θ', 1428, 643);
put('=', 1492, 643, { w: 13 }); put('30-', 1520, 643, { color: BB, w: 32 }); put('140', 1578, 643, { color: BB, w: 44 }); put('deg', 1632, 643, { w: 43 });
put('Stat =', 1428, 675, { w: 77 }); put('5', 1532, 675, { color: BB }); put('%', 1553, 675);
put('Syst =', 1428, 707, { w: 77 }); put('5', 1532, 707, { color: BB }); put('%', 1553, 707);
put('(', 1588, 707); put('>', 1600, 707, { color: BB, size: 17 }); put('1.3 GeV', 1620, 707, { color: BB, style: 'italic', w: 94 }); put(')', 1715, 707);
put('Syst =', 1428, 738, { w: 77 }); put('15', 1523, 738, { color: BB, w: 25 }); put('%', 1553, 738);
put('(', 1588, 738); put('<', 1600, 738, { color: BB, size: 17 }); put('1.3 GeV', 1620, 738, { color: BB, style: 'italic', w: 94 }); put(')', 1715, 738);

put('GRAAL', 1427, 867, { color: '#0dbb8c', weight: 'bold', style: 'italic', w: 90 });
put(':', 1518, 867);
put('861', 1563, 867, { color: MAG, w: 42 });
put('dσ/dΩ', 1620, 867, { w: 81 });
eGamma(1427, 898);
put('=', 1499, 898, { w: 13 }); put('550-1540', 1520, 898, { color: BB, w: 120 }); put('MeV', 1648, 898, { w: 55 });
put('θ', 1427, 930, { family: "'Liberation Serif', serif", size: 27 });
put('=', 1499, 930, { w: 13 }); put('49-', 1535, 930, { color: BB, w: 43 }); put('162', 1595, 930, { color: BB, w: 43 }); put('deg', 1648, 930, { w: 42 });
put('Stat =', 1427, 962, { w: 77 }); put('5', 1515, 962, { color: BB }); put('%', 1540, 962);
put('Syst =', 1427, 993, { w: 77 }); put('2', 1515, 993, { color: BB }); put('%', 1540, 993);
</script>
</body>
</html>
